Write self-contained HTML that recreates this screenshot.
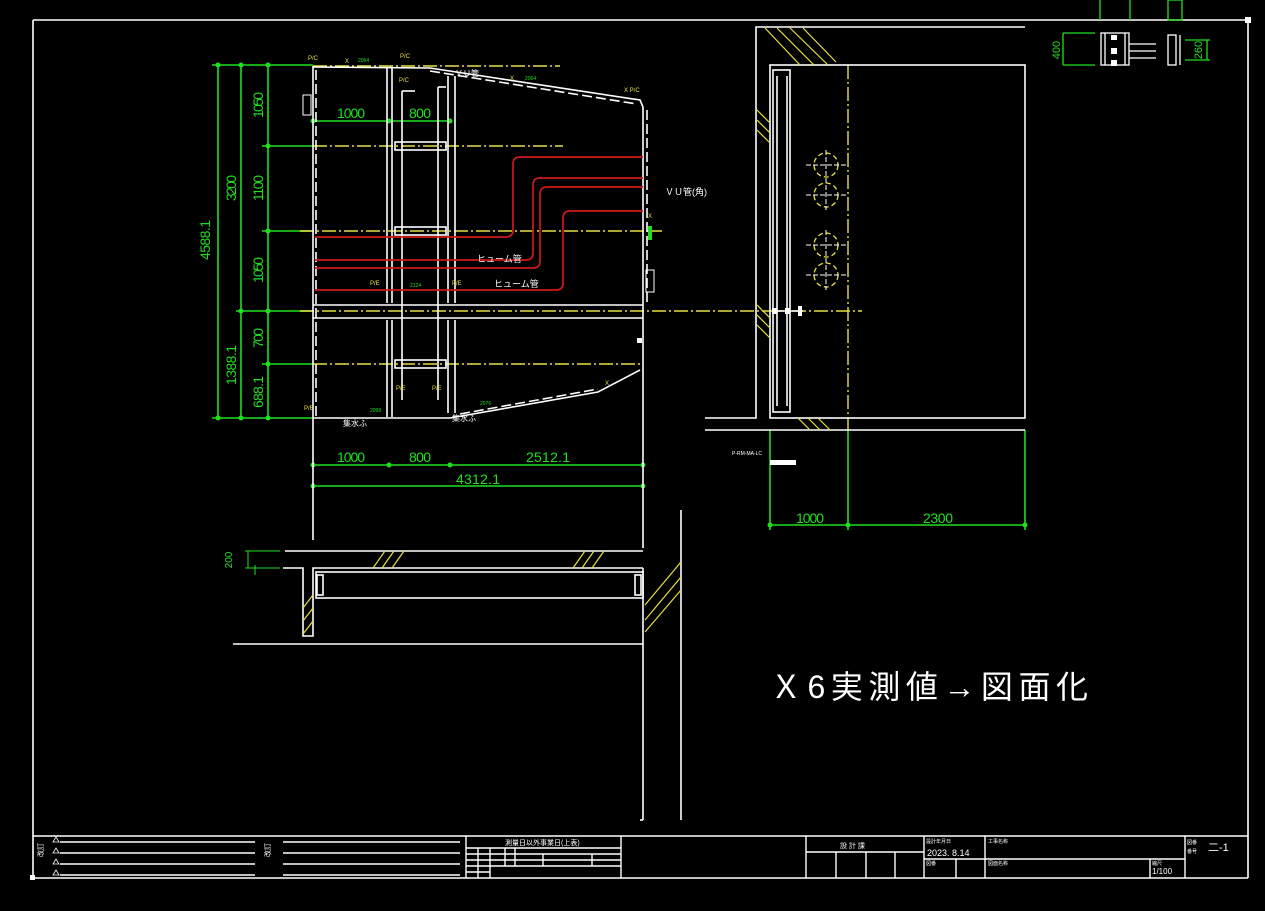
<!DOCTYPE html>
<html><head><meta charset="utf-8"><style>
html,body{margin:0;padding:0;background:#000;width:1265px;height:911px;overflow:hidden}
svg{display:block}
text{font-family:"Liberation Sans","Noto Sans CJK JP",sans-serif}
</style></head><body>
<svg width="1265" height="911" viewBox="0 0 1265 911" xmlns="http://www.w3.org/2000/svg">
<rect width="1265" height="911" fill="#000"/>
<!-- frame -->
<g stroke="#fff" stroke-width="1.6" fill="none">
<line x1="33" y1="20" x2="1248" y2="20"/>
<line x1="33" y1="20" x2="33" y2="878"/>
<line x1="1248" y1="20" x2="1248" y2="878"/>
<line x1="33" y1="878" x2="1248" y2="878"/>
<line x1="33" y1="836" x2="1248" y2="836"/>
</g>
<rect x="1245" y="17" width="6" height="6" fill="#fff"/>
<rect x="30" y="875" width="5" height="5" fill="#fff"/>

<!-- green dims left -->
<g stroke="#1ee01e" stroke-width="1.6" fill="none">
<line x1="218" y1="65" x2="218" y2="418"/>
<line x1="241" y1="65" x2="241" y2="418"/>
<line x1="268" y1="65" x2="268" y2="418"/>
<line x1="212" y1="65" x2="313" y2="65"/>
<line x1="212" y1="418" x2="313" y2="418"/>
<line x1="262" y1="146" x2="313" y2="146"/>
<line x1="262" y1="231" x2="313" y2="231"/>
<line x1="236" y1="311" x2="313" y2="311"/>
<line x1="262" y1="364" x2="313" y2="364"/>
<line x1="313" y1="121" x2="450" y2="121"/>
<line x1="313" y1="465" x2="643" y2="465"/>
<line x1="313" y1="486" x2="643" y2="486"/>
<line x1="770" y1="525" x2="1025" y2="525"/>
<line x1="770" y1="430" x2="770" y2="530"/>
<line x1="848" y1="430" x2="848" y2="530"/>
<line x1="1025" y1="430" x2="1025" y2="530"/>
</g>
<g fill="#1ee01e">
<circle cx="218" cy="65" r="2.5"/><circle cx="241" cy="65" r="2.5"/><circle cx="268" cy="65" r="2.5"/>
<circle cx="218" cy="418" r="2.5"/><circle cx="241" cy="418" r="2.5"/><circle cx="268" cy="418" r="2.5"/>
<circle cx="268" cy="146" r="2.5"/><circle cx="268" cy="231" r="2.5"/><circle cx="268" cy="311" r="2.5"/><circle cx="241" cy="311" r="2.5"/><circle cx="268" cy="364" r="2.5"/>
<circle cx="313" cy="121" r="2.5"/><circle cx="389" cy="121" r="2.5"/><circle cx="450" cy="121" r="2.5"/>
<circle cx="313" cy="465" r="2.5"/><circle cx="389" cy="465" r="2.5"/><circle cx="450" cy="465" r="2.5"/><circle cx="643" cy="465" r="2.5"/>
<circle cx="313" cy="486" r="2.5"/><circle cx="643" cy="486" r="2.5"/>
<circle cx="770" cy="525" r="2.5"/><circle cx="848" cy="525" r="2.5"/><circle cx="1025" cy="525" r="2.5"/>
</g>
<g fill="#1ee01e" font-size="14">
<text x="210" y="240" transform="rotate(-90 210 240)" text-anchor="middle" textLength="40">4588.1</text>
<text x="236" y="188" transform="rotate(-90 236 188)" text-anchor="middle" textLength="26">3200</text>
<text x="236" y="365" transform="rotate(-90 236 365)" text-anchor="middle" textLength="40">1388.1</text>
<text x="263" y="105" transform="rotate(-90 263 105)" text-anchor="middle" textLength="26">1050</text>
<text x="263" y="188" transform="rotate(-90 263 188)" text-anchor="middle" textLength="26">1100</text>
<text x="263" y="270" transform="rotate(-90 263 270)" text-anchor="middle" textLength="26">1050</text>
<text x="263" y="338" transform="rotate(-90 263 338)" text-anchor="middle" textLength="20">700</text>
<text x="263" y="392" transform="rotate(-90 263 392)" text-anchor="middle" textLength="32">688.1</text>
<text x="351" y="118" text-anchor="middle" textLength="28">1000</text>
<text x="420" y="118" text-anchor="middle" textLength="22">800</text>
<text x="351" y="462" text-anchor="middle" textLength="28">1000</text>
<text x="420" y="462" text-anchor="middle" textLength="22">800</text>
<text x="548" y="462" text-anchor="middle" textLength="44">2512.1</text>
<text x="478" y="484" text-anchor="middle" textLength="44">4312.1</text>
<text x="810" y="523" text-anchor="middle" textLength="28">1000</text>
<text x="938" y="523" text-anchor="middle" textLength="30">2300</text>
<text x="1060" y="50" transform="rotate(-90 1060 50)" text-anchor="middle" font-size="11">400</text>
<text x="1202" y="50" transform="rotate(-90 1202 50)" text-anchor="middle" font-size="11">260</text>
<text x="232" y="560" transform="rotate(-90 232 560)" text-anchor="middle" font-size="10">200</text>
</g>

<!-- yellow center lines -->
<g stroke="#e8e040" stroke-width="1.4" fill="none" stroke-dasharray="14 3 2 3">
<line x1="313" y1="66" x2="560" y2="66"/>
<line x1="313" y1="146" x2="563" y2="146"/>
<line x1="300" y1="231" x2="662" y2="231"/>
<line x1="300" y1="311" x2="770" y2="311"/>
<line x1="313" y1="364" x2="643" y2="364"/>
<line x1="848" y1="65" x2="848" y2="430"/>
<line x1="770" y1="311" x2="862" y2="311"/>
</g>

<!-- main plan outline -->
<g stroke="#fff" stroke-width="1.6" fill="none">
<line x1="313" y1="66" x2="313" y2="540"/>
<line x1="316" y1="70" x2="316" y2="417" stroke-dasharray="10 4"/>
<polyline points="313,67 430,68 640,100 643,107"/>
<polyline points="430,71 637,104" stroke-dasharray="10 4"/>
<line x1="643" y1="107" x2="643" y2="548"/>
<line x1="647" y1="110" x2="647" y2="305" stroke-dasharray="10 4"/>
<polyline points="313,418 450,418 598,392 640,370"/>
<polyline points="460,414 598,389" stroke-dasharray="10 4"/>
<line x1="313" y1="305" x2="643" y2="305"/>
<line x1="313" y1="318" x2="643" y2="318"/>
<line x1="387" y1="68" x2="387" y2="303"/><line x1="392" y1="68" x2="392" y2="303"/>
<line x1="387" y1="320" x2="387" y2="417"/><line x1="392" y1="320" x2="392" y2="417"/>
<line x1="448" y1="76" x2="448" y2="303"/><line x1="455" y1="76" x2="455" y2="303"/>
<line x1="448" y1="320" x2="448" y2="413"/><line x1="455" y1="320" x2="455" y2="413"/>
<rect x="395" y="142" width="51" height="8"/>
<rect x="395" y="227" width="51" height="8"/>
<rect x="395" y="360" width="51" height="8"/>
<line x1="402" y1="91" x2="402" y2="400"/>
<line x1="438" y1="87" x2="438" y2="400"/>
<line x1="402" y1="91" x2="415" y2="91"/>
<line x1="438" y1="87" x2="446" y2="87"/>
</g>
<!-- red pipes -->
<g stroke="#d01818" stroke-width="1.7" fill="none">
<path d="M315 237 H506 Q513 237 513 230 V164 Q513 157 520 157 H643"/>
<path d="M315 260 H526 Q533 260 533 253 V185 Q533 178 540 178 H643"/>
<path d="M315 268 H533 Q540 268 540 261 V194 Q540 187 547 187 H643"/>
<path d="M315 290 H556 Q563 290 563 283 V218 Q563 211 570 211 H643"/>
</g>
<!-- labels in plan -->
<g fill="#fff" font-size="9">
<text x="477" y="262">ヒューム管</text>
<text x="494" y="287">ヒューム管</text>
<text x="665" y="195">ＶＵ管(角)</text>
<text x="455" y="76" font-size="8">ＶＵ管</text>
<text x="343" y="426" font-size="8">集水ふ</text>
<text x="452" y="421" font-size="8">集水ふ</text>
</g>
<g fill="#e8e040" font-size="6">
<text x="308" y="60">P/C</text><text x="345" y="63">X</text><text x="400" y="58">P/C</text>
<text x="399" y="82">P/C</text><text x="510" y="80">X</text><text x="624" y="92">X P/C</text>
<text x="370" y="285">P/E</text><text x="452" y="285">P/E</text>
<text x="396" y="390">P/E</text><text x="432" y="390">P/E</text>
<text x="304" y="410">P/E</text><text x="605" y="385">X</text><text x="648" y="218">X</text>
</g>
<g fill="#1ee01e" font-size="5">
<text x="358" y="62">2064</text><text x="525" y="80">2064</text><text x="410" y="287">2124</text>
<text x="480" y="405">2076</text><text x="370" y="412">2098</text>
</g>
<rect x="648" y="226" width="4" height="14" fill="#1ee01e"/>
<rect x="303" y="95" width="8" height="20" fill="none" stroke="#fff"/>
<rect x="646" y="270" width="8" height="22" fill="none" stroke="#fff"/>
<rect x="637" y="338" width="5" height="5" fill="#fff"/>

<!-- right view -->
<g stroke="#fff" stroke-width="1.6" fill="none">
<polyline points="1025,27 756,27 756,418 705,418"/>
<rect x="770" y="65" width="255" height="353"/>
<line x1="705" y1="430" x2="1025" y2="430"/>
<rect x="773" y="70" width="17" height="342"/>
<line x1="777" y1="76" x2="777" y2="406"/><line x1="787" y1="76" x2="787" y2="406"/>
<line x1="772" y1="311" x2="803" y2="311"/>
</g>
<g fill="#fff"><rect x="772" y="308" width="5" height="6"/><rect x="785" y="308" width="5" height="6"/><rect x="798" y="306" width="4" height="10"/></g>
<g stroke="#e8e040" stroke-width="1.3" fill="none" stroke-dasharray="5 3">
<circle cx="826" cy="165" r="12"/><circle cx="826" cy="195" r="12"/>
<circle cx="826" cy="245" r="12"/><circle cx="826" cy="275" r="12"/>
</g>
<g stroke="#fff" stroke-width="1" stroke-dasharray="5 2">
<line x1="806" y1="165" x2="846" y2="165"/><line x1="806" y1="195" x2="846" y2="195"/>
<line x1="806" y1="245" x2="846" y2="245"/><line x1="806" y1="275" x2="846" y2="275"/>
<line x1="826" y1="150" x2="826" y2="210"/><line x1="826" y1="230" x2="826" y2="290"/>
</g>
<g stroke="#e8e040" stroke-width="1.2">
<line x1="765" y1="28" x2="800" y2="65"/><line x1="777" y1="28" x2="814" y2="65"/><line x1="790" y1="28" x2="828" y2="65"/><line x1="803" y1="28" x2="836" y2="62"/>
<line x1="757" y1="110" x2="770" y2="123"/><line x1="757" y1="120" x2="770" y2="133"/><line x1="757" y1="130" x2="770" y2="143"/>
<line x1="757" y1="305" x2="770" y2="318"/><line x1="757" y1="315" x2="770" y2="328"/><line x1="757" y1="325" x2="770" y2="338"/>
<line x1="798" y1="418" x2="810" y2="430"/><line x1="808" y1="418" x2="820" y2="430"/><line x1="818" y1="418" x2="830" y2="430"/>
</g>
<text x="732" y="455" fill="#fff" font-size="5">P-RM-MA-LC</text>
<rect x="770" y="460" width="26" height="5" fill="#fff"/>

<!-- top-right detail -->
<g stroke="#fff" stroke-width="1.3" fill="none">
<rect x="1101" y="33" width="28" height="32"/>
<line x1="1105" y1="33" x2="1105" y2="65"/><line x1="1125" y1="33" x2="1125" y2="65"/>
<line x1="1129" y1="44" x2="1156" y2="44"/><line x1="1129" y1="51" x2="1156" y2="51"/><line x1="1129" y1="58" x2="1156" y2="58"/>
<rect x="1168" y="35" width="8" height="30"/><line x1="1180" y1="35" x2="1180" y2="65"/>
</g>
<g fill="#fff"><rect x="1111" y="35" width="6" height="5"/><rect x="1111" y="48" width="6" height="6"/><rect x="1111" y="60" width="6" height="6"/></g>
<g stroke="#1ee01e" stroke-width="1.3" fill="none">
<line x1="1063" y1="33" x2="1063" y2="65"/><line x1="1063" y1="33" x2="1095" y2="33"/><line x1="1063" y1="65" x2="1095" y2="65"/>
<line x1="1100" y1="0" x2="1100" y2="20"/><line x1="1130" y1="0" x2="1130" y2="20"/>
<rect x="1168" y="0" width="14" height="20"/>
<line x1="1185" y1="40" x2="1210" y2="40"/><line x1="1185" y1="60" x2="1210" y2="60"/><line x1="1207" y1="40" x2="1207" y2="60"/>
</g>

<!-- lower section -->
<g stroke="#fff" stroke-width="1.6" fill="none">
<line x1="285" y1="551" x2="643" y2="551"/>
<polyline points="283,568 303,568 303,636 313,636 313,568 643,568"/>
<rect x="316" y="572" width="327" height="26"/>
<rect x="317" y="575" width="6" height="20"/><rect x="635" y="575" width="6" height="20"/>
<line x1="233" y1="644" x2="643" y2="644"/>
<line x1="643" y1="568" x2="643" y2="820"/>
<line x1="681" y1="510" x2="681" y2="820"/>
<line x1="640" y1="820" x2="643" y2="820"/>
</g>
<g stroke="#e8e040" stroke-width="1.2">
<line x1="373" y1="568" x2="385" y2="551"/><line x1="382" y1="568" x2="394" y2="551"/><line x1="392" y1="568" x2="404" y2="551"/>
<line x1="573" y1="568" x2="585" y2="551"/><line x1="582" y1="568" x2="594" y2="551"/><line x1="592" y1="568" x2="604" y2="551"/>
<line x1="303" y1="608" x2="313" y2="595"/><line x1="303" y1="621" x2="313" y2="608"/><line x1="303" y1="634" x2="313" y2="621"/>
<line x1="645" y1="605" x2="681" y2="562"/><line x1="645" y1="620" x2="681" y2="577"/><line x1="645" y1="632" x2="681" y2="590"/>
</g>
<g stroke="#1ee01e" stroke-width="1" fill="none">
<line x1="245" y1="551" x2="280" y2="551"/><line x1="245" y1="568" x2="280" y2="568"/>
<line x1="248" y1="551" x2="248" y2="568"/><line x1="255" y1="565" x2="255" y2="575"/>
</g>

<!-- big text -->
<text x="770" y="698" fill="#fff" font-size="32" textLength="318" lengthAdjust="spacing">Ｘ6実測値→図面化</text>

<!-- title block -->
<g stroke="#fff" stroke-width="1.4" fill="none">
<line x1="60" y1="842" x2="255" y2="842"/><line x1="60" y1="853" x2="255" y2="853"/><line x1="60" y1="864" x2="255" y2="864"/><line x1="60" y1="875" x2="255" y2="875"/>
<line x1="283" y1="842" x2="460" y2="842"/><line x1="283" y1="853" x2="460" y2="853"/><line x1="283" y1="864" x2="460" y2="864"/><line x1="283" y1="875" x2="460" y2="875"/>
<line x1="466" y1="836" x2="466" y2="878"/><line x1="621" y1="836" x2="621" y2="878"/>
<line x1="466" y1="848" x2="621" y2="848"/><line x1="466" y1="854" x2="621" y2="854"/><line x1="466" y1="860" x2="621" y2="860"/><line x1="466" y1="866" x2="621" y2="866"/><line x1="466" y1="872" x2="490" y2="872"/>
<line x1="478" y1="848" x2="478" y2="878"/><line x1="490" y1="848" x2="490" y2="878"/><line x1="505" y1="848" x2="505" y2="866"/><line x1="515" y1="848" x2="515" y2="866"/><line x1="543" y1="854" x2="543" y2="866"/><line x1="592" y1="854" x2="592" y2="866"/>
<line x1="806" y1="836" x2="806" y2="878"/><line x1="924" y1="836" x2="924" y2="878"/>
<line x1="806" y1="852" x2="924" y2="852"/>
<line x1="836" y1="852" x2="836" y2="878"/><line x1="866" y1="852" x2="866" y2="878"/><line x1="895" y1="852" x2="895" y2="878"/>
<line x1="985" y1="836" x2="985" y2="878"/><line x1="924" y1="859" x2="1185" y2="859"/>
<line x1="956" y1="859" x2="956" y2="878"/><line x1="1150" y1="859" x2="1150" y2="878"/>
<line x1="1185" y1="836" x2="1185" y2="878"/>
</g>
<g fill="#fff" font-size="7">
<text x="38" y="862" transform="rotate(-90 38 857)">改訂</text>
<text x="265" y="862" transform="rotate(-90 265 857)">改訂</text>
<text x="505" y="845">測量日以外事業日(上表)</text>
<text x="840" y="848">設 計 課</text>
<text x="926" y="843" font-size="5">設計年月日</text>
<text x="927" y="856" font-size="9">2023. 8.14</text>
<text x="988" y="843" font-size="5">工事名称</text>
<text x="926" y="865" font-size="5">図番</text>
<text x="988" y="865" font-size="5">図面名称</text>
<text x="1152" y="865" font-size="5">縮尺</text>
<text x="1152" y="874" font-size="8">1/100</text>
<text x="1187" y="844" font-size="5">図番</text>
<text x="1187" y="853" font-size="5">番号</text>
<text x="1208" y="851" font-size="11">二-1</text>
</g>
<g fill="none" stroke="#fff" stroke-width="0.8">
<path d="M53 842 l3 -5 l3 5z"/><path d="M53 853 l3 -5 l3 5z"/><path d="M53 864 l3 -5 l3 5z"/><path d="M53 875 l3 -5 l3 5z"/>
</g>
</svg>
</body></html>
